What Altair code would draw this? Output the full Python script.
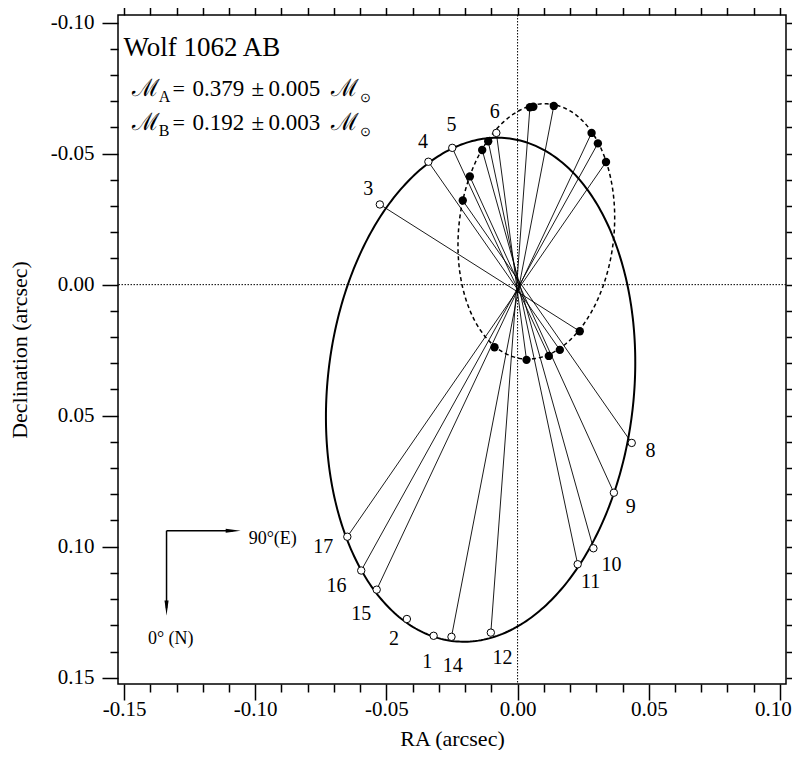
import altair as alt
import numpy as np
import pandas as pd

FONT = "Liberation Serif"

# ---------------- axis tick values ----------------
ra_ticks = [-0.15, -0.14, -0.13, -0.12, -0.11, -0.10, -0.09, -0.08, -0.07, -0.06,
            -0.05, -0.04, -0.03, -0.02, -0.01, 0.00, 0.01, 0.02, 0.03, 0.04,
            0.05, 0.06, 0.07, 0.08, 0.09, 0.10]
dec_ticks = [-0.10, -0.09, -0.08, -0.07, -0.06, -0.05, -0.04, -0.03, -0.02, -0.01,
             0.00, 0.01, 0.02, 0.03, 0.04, 0.05, 0.06, 0.07, 0.08, 0.09,
             0.10, 0.11, 0.12, 0.13, 0.14, 0.15]
ra_domain = [-0.1523, 0.1023]
dec_domain = [-0.1029, 0.1524]

# ---------------- observations ----------------
epochs = ["1", "2", "3", "4", "5", "6", "8", "9", "10", "11", "12", "14", "15", "16", "17"]
ra_B = [-0.0320, -0.0422, -0.0525, -0.0340, -0.0249, -0.0081, 0.0435, 0.0367,
        0.0289, 0.0229, -0.0102, -0.0252, -0.0537, -0.0596, -0.0649]
dec_B = [0.1340, 0.1276, -0.0306, -0.0469, -0.0522, -0.0579, 0.0604, 0.0794,
         0.1006, 0.1067, 0.1328, 0.1344, 0.1164, 0.1091, 0.0962]
ra_A = [0.0060, -0.0088, 0.0237, 0.0161, 0.0119, 0.0034, -0.0209, -0.0182,
        -0.0135, -0.0112, 0.0047, 0.0138, 0.0282, 0.0306, 0.0337]
dec_A = [-0.0679, 0.0239, 0.0178, 0.0249, 0.0272, 0.0287, -0.0321, -0.0413,
         -0.0514, -0.0547, -0.0677, -0.0682, -0.0579, -0.0539, -0.0468]
connected = [False, False, True, True, True, True, True, True,
             True, True, True, True, True, True, True]
label_ra = [-0.0344, -0.0471, -0.0569, -0.0361, -0.0252, -0.0087, 0.0507, 0.0431,
            0.0358, 0.0278, -0.0058, -0.0247, -0.0596, -0.0690, -0.0741]
label_dec = [0.1441, 0.1352, -0.0365, -0.0546, -0.0611, -0.0657, 0.0633, 0.0847,
             0.1069, 0.1136, 0.1424, 0.1454, 0.1256, 0.1151, 0.1002]

# ---------------- orbit (apparent orbit of B about the centre of mass) ----------------
mass_A = 0.379
mass_B = 0.192
orbit_center = (-0.0141, 0.0401)
orbit_semi_major = 0.0965
orbit_semi_minor = 0.0584
orbit_angle_deg = 96.0

t = np.linspace(0, 2 * np.pi, 361)
ang = np.radians(orbit_angle_deg)
orb_ra = orbit_center[0] + orbit_semi_major * np.cos(t) * np.cos(ang) - orbit_semi_minor * np.sin(t) * np.sin(ang)
orb_dec = orbit_center[1] + orbit_semi_major * np.cos(t) * np.sin(ang) + orbit_semi_minor * np.sin(t) * np.cos(ang)
k = mass_B / mass_A
orbit_B = pd.DataFrame({"ra": orb_ra, "dec": orb_dec, "i": np.arange(len(t))})
orbit_A = pd.DataFrame({"ra": -k * orb_ra, "dec": -k * orb_dec, "i": np.arange(len(t))})

obs = pd.DataFrame({"epoch": epochs, "raB": ra_B, "decB": dec_B, "raA": ra_A, "decA": dec_A,
                    "conn": connected, "lra": label_ra, "ldec": label_dec})
links = obs[obs["conn"]]

# ---------------- annotations ----------------
title_text = ["Wolf 1062 AB"]
title_pos = (-0.1502, -0.0904)

mass_text = ["\u2133", "A", "=", "0.379", "\u00b1", "0.005", "\u2133", "\u2299",
             "\u2133", "B", "=", "0.192", "\u00b1", "0.003", "\u2133", "\u2299"]
mass_ra = [-0.1471, -0.1368, -0.1315, -0.1239, -0.1014, -0.0949, -0.0713, -0.0602,
           -0.1471, -0.1368, -0.1315, -0.1239, -0.1014, -0.0949, -0.0713, -0.0602]
mass_dec = [-0.0748, -0.0717, -0.0748, -0.0748, -0.0748, -0.0748, -0.0748, -0.0711,
            -0.0618, -0.0588, -0.0618, -0.0618, -0.0618, -0.0618, -0.0618, -0.0581]
mass_size = [24, 16, 22, 23, 23, 23, 24, 13, 24, 16, 22, 23, 23, 23, 24, 13]

compass_corner = (-0.1338, 0.0939)
compass_east_head = -0.1084
compass_north_head = 0.1234
compass_text = ["90\u00b0(E)", "0\u00b0 (N)"]
compass_text_ra = [-0.1025, -0.1322]
compass_text_dec = [0.0969, 0.1354]
compass_text_align = ["left", "center"]

# ---------------- chart ----------------
xs = alt.Scale(domain=ra_domain, nice=False, zero=False)
ys = alt.Scale(domain=dec_domain, nice=False, zero=False, reverse=True)

MAJOR = "abs(round(datum.value*100)) % 5 == 0"
LABEL = "abs(round(datum.value*100)) % 5 == 0 ? replace(format(datum.value, '.2f'), '\u2212', '-') : ''"


def make_axis(orient, values, title, labels, pad, tpad, last_shift=0):
    kw = dict(orient=orient, values=values, grid=False, domain=False,
              tickColor="black", tickWidth=1.5,
              tickSize={"condition": {"test": MAJOR, "value": 16}, "value": 8},
              labels=labels, title=title)
    if labels:
        kw.update(labelExpr=LABEL, labelFont=FONT, labelFontSize=21, labelColor="black",
                  labelPadding=pad, titleFont=FONT, titleFontSize=22, titlePadding=tpad,
                  titleFontWeight="normal", titleColor="black", labelFlush=False,
                  labelOverlap=False)
        if last_shift:
            kw.update(labelOffset={"condition": {"test": "datum.value > 0.095", "value": last_shift},
                                   "value": 0})
    return alt.Axis(**kw)


def X(field):
    return alt.X(field, type="quantitative", scale=xs, axis=None)


def Y(field):
    return alt.Y(field, type="quantitative", scale=ys, axis=None)


zero_v = alt.Chart(pd.DataFrame({"v": [0.0]})).mark_rule(
    color="black", strokeWidth=1, strokeDash=[1.5, 1.5]).encode(x=X("v"))
zero_h = alt.Chart(pd.DataFrame({"v": [0.0]})).mark_rule(
    color="black", strokeWidth=1, strokeDash=[1.5, 1.5]).encode(y=Y("v"))

link_rules = alt.Chart(links).mark_rule(color="black", strokeWidth=0.9).encode(
    x=X("raB"), y=Y("decB"), x2="raA", y2="decA")

orbit_B_line = alt.Chart(orbit_B).mark_line(color="black", strokeWidth=2).encode(
    x=alt.X("ra:Q", scale=xs, axis=make_axis("bottom", ra_ticks, "RA (arcsec)", True, -2, 9, -7)),
    y=alt.Y("dec:Q", scale=ys, axis=make_axis("left", dec_ticks, "Declination (arcsec)", True, 8, 19)),
    order="i:Q")

orbit_A_line = alt.Chart(orbit_A).mark_line(color="black", strokeWidth=1.5, strokeDash=[4, 3]).encode(
    x=X("ra"), y=Y("dec"), order="i:Q")

frame_axes = alt.Chart(orbit_B).mark_line(strokeOpacity=0).encode(
    x=alt.X("ra:Q", scale=xs, axis=make_axis("top", ra_ticks, "", False, 0, 0)),
    y=alt.Y("dec:Q", scale=ys, axis=make_axis("right", dec_ticks, "", False, 0, 0)),
    order="i:Q")

open_pts = alt.Chart(obs).mark_point(shape="circle", size=55, filled=True, fill="white",
                                     stroke="black", strokeWidth=1, opacity=1).encode(
    x=X("raB"), y=Y("decB"))

filled_pts = alt.Chart(obs).mark_circle(size=70, color="black", opacity=1).encode(
    x=X("raA"), y=Y("decA"))

labels = alt.Chart(obs).mark_text(font=FONT, fontSize=20, color="black",
                                  align="center", baseline="middle").encode(
    x=X("lra"), y=Y("ldec"), text="epoch:N")

title = alt.Chart(pd.DataFrame({"ra": [title_pos[0]], "dec": [title_pos[1]], "t": title_text})).mark_text(
    font=FONT, fontSize=27, color="black", align="left", baseline="middle").encode(
    x=X("ra"), y=Y("dec"), text="t:N")

mass_df = pd.DataFrame({"ra": mass_ra, "dec": mass_dec, "t": mass_text, "s": mass_size})
mass = alt.Chart(mass_df).mark_text(font=FONT, color="black", align="left", baseline="middle").encode(
    x=X("ra"), y=Y("dec"), text="t:N", size=alt.Size("s:Q", scale=None, legend=None))

cmp_lines = alt.Chart(pd.DataFrame({
    "x1": [compass_corner[0], compass_corner[0]],
    "y1": [compass_corner[1], compass_corner[1]],
    "x2": [compass_east_head, compass_corner[0]],
    "y2": [compass_corner[1], compass_north_head]})).mark_rule(color="black", strokeWidth=1.5).encode(
    x=X("x1"), y=Y("y1"), x2="x2", y2="y2")

head_east = alt.Chart(pd.DataFrame({"x": [compass_east_head], "y": [compass_corner[1]]})).mark_point(
    shape="M-1,-0.27L1,0L-1,0.27Z", size=225, filled=True, color="black", opacity=1).encode(
    x=X("x"), y=Y("y"))
head_north = alt.Chart(pd.DataFrame({"x": [compass_corner[0]], "y": [compass_north_head]})).mark_point(
    shape="M-0.27,-1L0,1L0.27,-1Z", size=225, filled=True, color="black", opacity=1).encode(
    x=X("x"), y=Y("y"))

cmp_df = pd.DataFrame({"x": compass_text_ra, "y": compass_text_dec, "t": compass_text,
                       "a": compass_text_align})
cmp_text = alt.Chart(cmp_df).transform_filter("datum.a == 'left'").mark_text(
    font=FONT, fontSize=18, color="black", align="left", baseline="middle").encode(
    x=X("x"), y=Y("y"), text="t:N")
cmp_text2 = alt.Chart(cmp_df).transform_filter("datum.a == 'center'").mark_text(
    font=FONT, fontSize=18, color="black", align="center", baseline="middle").encode(
    x=X("x"), y=Y("y"), text="t:N")

chart = alt.layer(
    zero_v, zero_h, frame_axes, orbit_B_line, orbit_A_line, link_rules,
    open_pts, filled_pts, labels, title, mass, cmp_lines, head_east, head_north,
    cmp_text, cmp_text2
).resolve_axis(x="independent", y="independent").properties(
    width=668, height=669,
    autosize=alt.AutoSizeParams(type="none"),
    padding={"left": 110, "top": 7, "right": 6, "bottom": 66},
    background="white",
).configure_view(stroke="black", strokeWidth=1.5)

chart.save("out.html", embed_options={"renderer": "svg", "actions": False})
